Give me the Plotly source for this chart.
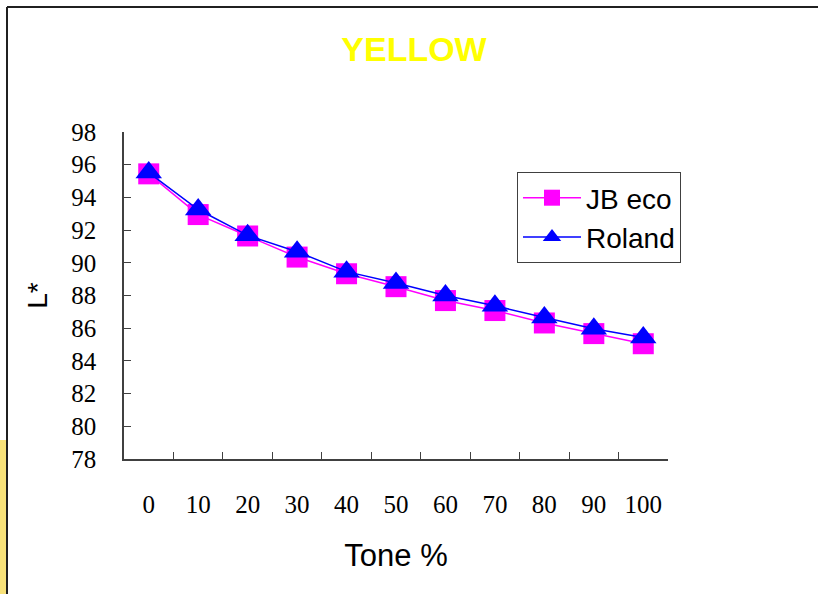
import plotly.graph_objects as go

tone = ["0", "10", "20", "30", "40", "50", "60", "70", "80", "90", "100"]
jb_eco = [95.44, 92.95, 91.64, 90.35, 89.33, 88.54, 87.69, 87.08, 86.32, 85.67, 85.05]
roland = [95.52, 93.26, 91.68, 90.68, 89.46, 88.76, 88.00, 87.37, 86.65, 85.97, 85.43]
y_ticks = [78, 80, 82, 84, 86, 88, 90, 92, 94, 96, 98]

fig = go.Figure()
fig.add_trace(go.Scatter(
    x=tone, y=jb_eco, name="JB eco", mode="lines+markers",
    line=dict(color="#FF00FF", width=1.5),
    marker=dict(symbol="square", size=21, color="#FF00FF", line=dict(width=0)),
))
fig.add_trace(go.Scatter(
    x=tone, y=roland, name="Roland", mode="lines+markers",
    line=dict(color="#0000FF", width=1.5),
    marker=dict(symbol="triangle-up", size=23, color="#0000FF", line=dict(width=0)),
))

axis_col = "#404040"
fig.update_layout(
    width=818, height=594, autosize=False,
    paper_bgcolor="white", plot_bgcolor="white",
    margin=dict(l=124, r=150, t=132, b=135),
    title=dict(text="<b>YELLOW</b>", x=414 / 818, xref="container", xanchor="center",
               y=1 - 49.5 / 594, yref="container", yanchor="middle",
               font=dict(family="Liberation Sans, Arial", size=34, color="#FFFF00")),
    showlegend=True,
    legend=dict(x=(517 - 124) / 544, y=(459 - 172) / 327, xanchor="left", yanchor="top",
                bgcolor="white", bordercolor="#404040", borderwidth=1,
                font=dict(family="Liberation Sans, Arial", size=28, color="black"),
                tracegroupgap=0, itemwidth=58),
    xaxis=dict(
        type="category", range=[-0.5, 10.5], tickson="boundaries",
        ticks="inside", ticklen=7, tickcolor=axis_col, tickwidth=1.3,
        showline=True, linecolor=axis_col, linewidth=1.5, showgrid=False, zeroline=False,
        tickfont=dict(family="Liberation Serif, Times New Roman", size=25, color="black"),
        ticklabelstandoff=22,
        title=dict(text="Tone %", standoff=28,
                   font=dict(family="Liberation Sans, Arial", size=31, color="black")),
    ),
    yaxis=dict(
        range=[78, 98], tickvals=y_ticks, ticktext=[str(v) for v in y_ticks],
        ticks="inside", ticklen=7, tickcolor=axis_col, tickwidth=1.3,
        showline=True, linecolor=axis_col, linewidth=1.5, showgrid=False, zeroline=False,
        tickfont=dict(family="Liberation Serif, Times New Roman", size=25, color="black"),
        ticklabelstandoff=21,
        title=dict(text="L*", standoff=15,
                   font=dict(family="Liberation Sans, Arial", size=28, color="black")),
    ),
)

def px_x(px):
    return (px - 124) / 544

def px_y(py):
    return (459 - py) / 327

# slide background sliver at far left, and the slide frame lines (top and left)
fig.add_shape(type="rect", xref="paper", yref="paper", layer="below",
              x0=px_x(0), x1=px_x(6), y0=px_y(594), y1=px_y(440),
              fillcolor="#F8E27A", line=dict(width=0))
fig.add_shape(type="line", xref="paper", yref="paper",
              x0=px_x(7), x1=px_x(818), y0=px_y(7), y1=px_y(7),
              line=dict(color="#202020", width=2))
fig.add_shape(type="line", xref="paper", yref="paper",
              x0=px_x(7), x1=px_x(7), y0=px_y(7), y1=px_y(594),
              line=dict(color="#202020", width=2))

fig.write_html("out.html", config={"displayModeBar": False},
               post_script="document.body.style.margin='0px';")
